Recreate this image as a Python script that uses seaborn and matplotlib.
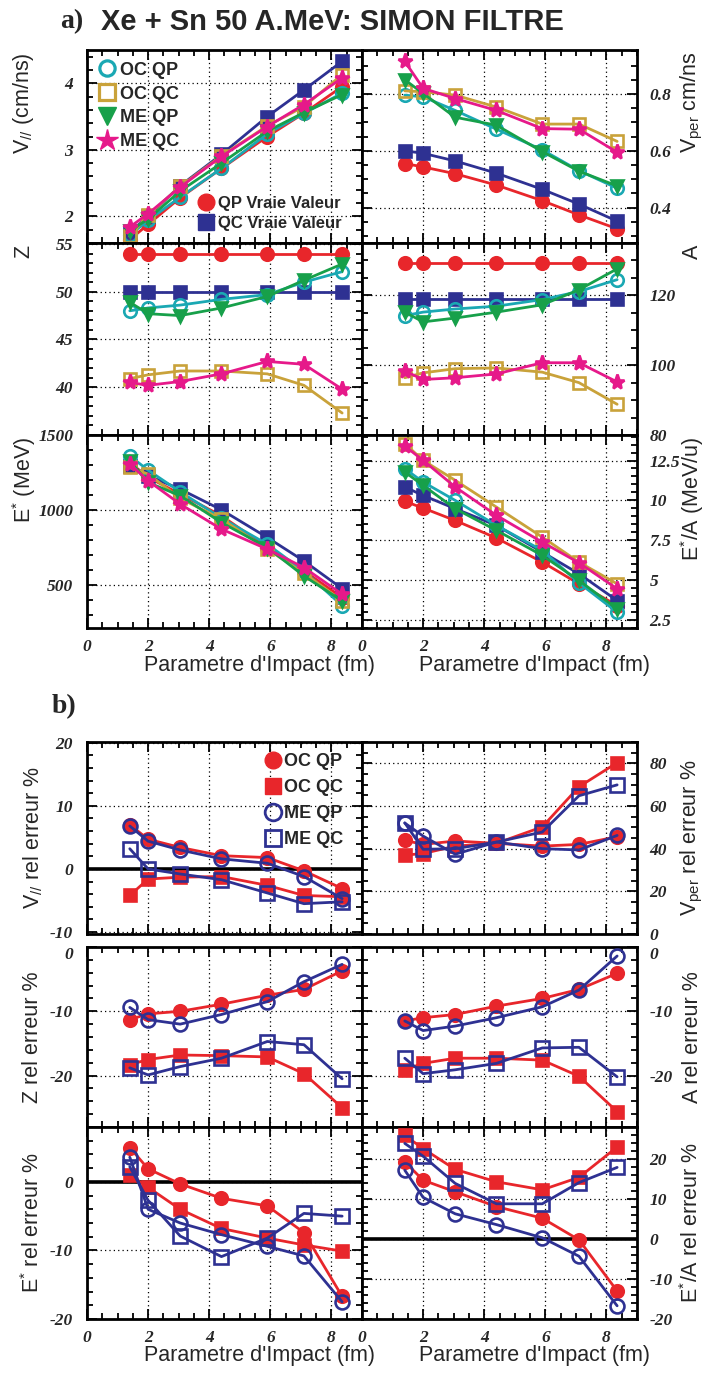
import numpy as np
import pandas as pd
import seaborn as sns
import matplotlib.pyplot as plt
from matplotlib.lines import Line2D
from matplotlib.ticker import MultipleLocator, FuncFormatter

sns.set_style('ticks')
plt.rcParams['font.family'] = ['Liberation Sans Narrow', 'Liberation Sans', 'DejaVu Sans']
plt.rcParams['mathtext.default'] = 'regular'

#%% DATA
# parametre d'impact (fm)
b_imp = [1.4, 2.0, 3.05, 4.4, 5.9, 7.1, 8.35]

# a) valeurs reconstruites
vpar_qp_true = [1.65, 1.88, 2.28, 2.72, 3.20, 3.55, 3.95]
vpar_qc_true = [1.76, 2.00, 2.46, 2.93, 3.50, 3.90, 4.33]
vpar_oc_qp = [1.72, 1.94, 2.29, 2.72, 3.24, 3.55, 3.85]
vpar_oc_qc = [1.70, 2.02, 2.45, 2.91, 3.36, 3.65, 4.13]
vpar_me_qp = [1.78, 1.96, 2.38, 2.80, 3.28, 3.56, 3.83]
vpar_me_qc = [1.84, 2.04, 2.44, 2.90, 3.35, 3.68, 4.08]

vper_qp_true = [0.555, 0.543, 0.519, 0.479, 0.424, 0.374, 0.325]
vper_qc_true = [0.600, 0.591, 0.564, 0.521, 0.464, 0.412, 0.352]
vper_oc_qp = [0.796, 0.790, 0.742, 0.676, 0.603, 0.530, 0.468]
vper_oc_qc = [0.811, 0.808, 0.796, 0.754, 0.694, 0.694, 0.633]
vper_me_qp = [0.850, 0.802, 0.718, 0.690, 0.597, 0.528, 0.476]
vper_me_qc = [0.915, 0.820, 0.784, 0.742, 0.678, 0.676, 0.595]

z_qp_true = [54.0, 54.0, 54.0, 54.0, 54.0, 54.0, 54.0]
z_qc_true = [50.0, 50.0, 50.0, 50.0, 50.0, 50.0, 50.0]
z_oc_qp = [48.0, 48.3, 48.6, 49.2, 49.7, 51.0, 52.1]
z_oc_qc = [40.9, 41.3, 41.7, 41.7, 41.4, 40.2, 37.3]
z_me_qp = [48.9, 47.7, 47.5, 48.3, 49.5, 51.2, 52.9]
z_me_qc = [40.5, 40.2, 40.6, 41.4, 42.7, 42.4, 39.8]

a_qp_true = [129.4, 129.4, 129.4, 129.4, 129.4, 129.4, 129.4]
a_qc_true = [119.0, 119.0, 119.0, 119.0, 119.0, 119.0, 119.0]
a_oc_qp = [114.2, 115.2, 116.1, 116.9, 118.8, 121.1, 124.5]
a_oc_qc = [96.4, 97.8, 99.0, 99.2, 98.0, 95.0, 88.8]
a_me_qp = [115.2, 112.4, 113.5, 115.2, 117.3, 121.6, 127.6]
a_me_qc = [98.3, 95.9, 96.4, 97.5, 100.7, 100.7, 95.2]

estar_qp_true = [1317, 1217, 1105, 960, 748, 592, 413]
estar_qc_true = [1295, 1228, 1138, 1000, 815, 658, 473]
estar_oc_qp = [1360, 1265, 1120, 945, 770, 590, 360]
estar_oc_qc = [1283, 1239, 1076, 938, 737, 576, 391]
estar_me_qp = [1328, 1183, 1094, 915, 748, 558, 391]
estar_me_qc = [1306, 1194, 1038, 871, 737, 614, 436]

esa_qp_true = [9.94, 9.52, 8.74, 7.64, 6.13, 4.77, 3.41]
esa_qc_true = [10.84, 10.31, 9.48, 8.43, 6.76, 5.40, 3.72]
esa_oc_qp = [11.99, 11.15, 10.0, 8.43, 6.86, 4.83, 2.99]
esa_oc_qc = [13.56, 12.51, 11.26, 9.58, 7.70, 6.13, 4.77]
esa_me_qp = [11.78, 10.94, 9.48, 8.12, 6.55, 4.98, 3.20]
esa_me_qc = [13.41, 12.51, 10.84, 9.06, 7.38, 6.09, 4.46]

# b) erreurs relatives (%)
err_vpar_oc_qp = [7.0, 4.7, 3.4, 2.1, 1.8, -0.3, -3.1]
err_vpar_oc_qc = [-4.2, -1.6, -1.3, -1.2, -2.6, -4.2, -4.4]
err_vpar_me_qp = [6.8, 4.4, 3.0, 1.6, 0.9, -1.2, -4.7]
err_vpar_me_qc = [3.2, 0.0, -0.8, -1.7, -3.8, -5.5, -5.2]

err_vper_oc_qp = [43.9, 42.0, 43.6, 42.5, 41.2, 42.0, 45.6]
err_vper_oc_qc = [37.0, 37.7, 41.2, 42.5, 50.2, 69.0, 80.3]
err_vper_me_qp = [52.0, 45.9, 37.4, 43.1, 40.0, 39.4, 46.2]
err_vper_me_qc = [52.1, 39.7, 40.0, 43.1, 47.8, 64.8, 69.9]

err_z_oc_qp = [-11.3, -10.4, -10.0, -8.9, -7.5, -6.6, -3.7]
err_z_oc_qc = [-18.3, -17.5, -16.8, -16.9, -17.1, -19.7, -25.0]
err_z_me_qp = [-9.4, -11.3, -12.0, -10.5, -8.5, -5.4, -2.7]
err_z_me_qc = [-18.8, -19.9, -18.6, -17.3, -14.7, -15.2, -20.5]

err_a_oc_qp = [-11.5, -11.0, -10.5, -9.2, -8.0, -6.6, -4.1]
err_a_oc_qc = [-19.1, -18.1, -17.3, -17.3, -17.6, -20.1, -25.6]
err_a_me_qp = [-11.5, -13.0, -12.3, -11.0, -9.3, -6.7, -1.4]
err_a_me_qc = [-17.3, -19.7, -19.1, -18.1, -15.7, -15.6, -20.2]

err_estar_oc_qp = [5.0, 1.9, -0.3, -2.4, -3.5, -7.4, -16.7]
err_estar_oc_qc = [1.0, -0.8, -4.0, -6.8, -8.2, -9.2, -10.1]
err_estar_me_qp = [3.6, -4.0, -6.0, -7.7, -9.4, -10.8, -17.5]
err_estar_me_qc = [2.2, -2.7, -7.9, -10.9, -8.2, -4.6, -5.0]

err_esa_oc_qp = [19.3, 14.7, 11.8, 8.1, 5.2, -0.2, -13.0]
err_esa_oc_qc = [25.9, 22.6, 17.4, 14.3, 12.3, 15.4, 23.0]
err_esa_me_qp = [17.2, 10.4, 6.3, 3.6, 0.3, -4.3, -16.7]
err_esa_me_qc = [23.9, 20.7, 13.9, 8.8, 8.8, 14.1, 17.9]

#%% STYLE
RED = '#e8262b'
NAVY = '#2e3192'
CYAN = '#1aa8b3'
GOLD = '#c9a23a'
GREEN = '#17a04a'
PINK = '#e6198a'

TICKFONT = dict(family=['Liberation Serif', 'DejaVu Serif'], weight='bold', style='italic', size=12.5)
LABFONT = 15.5


def draw(ax, y, color, marker, filled=True, ms=9, z=2):
    sns.lineplot(x=b_imp, y=y, ax=ax, color=color, marker=marker, markersize=ms,
                 markerfacecolor=color if filled else 'none', markeredgecolor=color,
                 markeredgewidth=1.9, linewidth=2.0, legend=False, zorder=z)


def style(ax, ylim, yticks, yminor, right=False, bottom=False, zero=False):
    ax.set_xlim(0, 9)
    ax.set_ylim(*ylim)
    ax.set_xticks([0, 2, 4, 6, 8])
    ax.xaxis.set_minor_locator(MultipleLocator(0.5))
    ax.set_yticks(yticks)
    ax.yaxis.set_minor_locator(MultipleLocator(yminor))
    ax.yaxis.set_major_formatter(FuncFormatter(lambda v, p: '%g' % v))
    ax.grid(True, which='major', color='black', linestyle=(0, (1, 2.5)), linewidth=0.9)
    ax.set_axisbelow(True)
    ax.tick_params(which='both', direction='in', top=True, bottom=True, left=True, right=True,
                   width=1.3, color='black')
    ax.tick_params(which='major', length=7)
    ax.tick_params(which='minor', length=4.5)
    ax.tick_params(axis='y', pad=9 if right else 10, labelleft=not right, labelright=right)
    ax.tick_params(axis='x', pad=8, labelbottom=bottom)
    for lab in ax.get_xticklabels() + ax.get_yticklabels():
        lab.set_fontproperties(TICKFONT)
    for sp in ax.spines.values():
        sp.set_linewidth(2)
        sp.set_color('black')
    ax.set_xlabel('')
    ax.set_ylabel('')
    if zero:
        ax.axhline(0, color='black', linewidth=2.6, zorder=1.5)


fig = plt.figure(figsize=(7.06, 13.74), dpi=100)
H = 1374.0
W = 706.0


def rect(x0, x1, y0, y1):
    return [x0 / W, 1 - y1 / H, (x1 - x0) / W, (y1 - y0) / H]


XL, XM, XR = 87, 362, 637
rows_a = [(50, 243), (243, 435), (435, 628)]
rows_b = [(742, 934), (947, 1127), (1127, 1319)]

#%% a) valeurs
ax = fig.add_axes(rect(XL, XM, *rows_a[0]))
for y, c, m, f in [(vpar_qp_true, RED, 'o', True), (vpar_qc_true, NAVY, 's', True),
                   (vpar_oc_qp, CYAN, 'o', False), (vpar_oc_qc, GOLD, 's', False),
                   (vpar_me_qp, GREEN, 'v', True), (vpar_me_qc, PINK, '*', True)]:
    draw(ax, y, c, m, f, ms=11 if m == '*' else 9)
style(ax, (1.6, 4.5), [2, 3, 4], 0.2)
legfont = dict(family=['Liberation Sans Narrow', 'Liberation Sans'], weight='bold', size=13)
h1 = [Line2D([], [], ls='none', marker='o', ms=11, mfc='none', mec=CYAN, mew=2.3, label='OC QP'),
      Line2D([], [], ls='none', marker='s', ms=12, mfc='none', mec=GOLD, mew=2.3, label='OC QC'),
      Line2D([], [], ls='none', marker='v', ms=13, color=GREEN, label='ME QP'),
      Line2D([], [], ls='none', marker='*', ms=16, color=PINK, label='ME QC')]
leg1 = ax.legend(handles=h1, loc='upper left', frameon=False, prop=legfont, handlelength=0.9,
                 handletextpad=0.3, labelspacing=0.38, borderaxespad=0.15, borderpad=0.5)
ax.add_artist(leg1)
h2 = [Line2D([], [], ls='none', marker='o', ms=12, color=RED, label='QP Vraie Valeur'),
      Line2D([], [], ls='none', marker='s', ms=11, color=NAVY, label='QC Vraie Valeur')]
ax.legend(handles=h2, loc='lower right', frameon=False, prop=dict(legfont, size=12),
          handlelength=0.9, handletextpad=0.3, labelspacing=0.3, borderaxespad=0.3,
          bbox_to_anchor=(0.97, 0.0))

ax = fig.add_axes(rect(XM, XR, *rows_a[0]))
for y, c, m, f in [(vper_qp_true, RED, 'o', True), (vper_qc_true, NAVY, 's', True),
                   (vper_oc_qp, CYAN, 'o', False), (vper_oc_qc, GOLD, 's', False),
                   (vper_me_qp, GREEN, 'v', True), (vper_me_qc, PINK, '*', True)]:
    draw(ax, y, c, m, f, ms=11 if m == '*' else 9)
style(ax, (0.275, 0.955), [0.4, 0.6, 0.8], 0.05, right=True)

ax = fig.add_axes(rect(XL, XM, *rows_a[1]))
for y, c, m, f in [(z_qp_true, RED, 'o', True), (z_qc_true, NAVY, 's', True),
                   (z_oc_qp, CYAN, 'o', False), (z_oc_qc, GOLD, 's', False),
                   (z_me_qp, GREEN, 'v', True), (z_me_qc, PINK, '*', True)]:
    draw(ax, y, c, m, f, ms=11 if m == '*' else 9)
style(ax, (35.0, 55.1), [40, 45, 50, 55], 1)

ax = fig.add_axes(rect(XM, XR, *rows_a[1]))
for y, c, m, f in [(a_qp_true, RED, 'o', True), (a_qc_true, NAVY, 's', True),
                   (a_oc_qp, CYAN, 'o', False), (a_oc_qc, GOLD, 's', False),
                   (a_me_qp, GREEN, 'v', True), (a_me_qc, PINK, '*', True)]:
    draw(ax, y, c, m, f, ms=11 if m == '*' else 9)
style(ax, (80, 135), [80, 100, 120], 5, right=True)

ax = fig.add_axes(rect(XL, XM, *rows_a[2]))
for y, c, m, f in [(estar_qp_true, RED, 'o', True), (estar_qc_true, NAVY, 's', True),
                   (estar_oc_qp, CYAN, 'o', False), (estar_oc_qc, GOLD, 's', False),
                   (estar_me_qp, GREEN, 'v', True), (estar_me_qc, PINK, '*', True)]:
    draw(ax, y, c, m, f, ms=11 if m == '*' else 9)
style(ax, (210, 1500), [500, 1000, 1500], 100, bottom=True)

ax = fig.add_axes(rect(XM, XR, *rows_a[2]))
for y, c, m, f in [(esa_qp_true, RED, 'o', True), (esa_qc_true, NAVY, 's', True),
                   (esa_oc_qp, CYAN, 'o', False), (esa_oc_qc, GOLD, 's', False),
                   (esa_me_qp, GREEN, 'v', True), (esa_me_qc, PINK, '*', True)]:
    draw(ax, y, c, m, f, ms=11 if m == '*' else 9)
style(ax, (2.0, 14.1), [2.5, 5, 7.5, 10, 12.5], 0.5, right=True, bottom=True)

#%% b) erreurs relatives
panels_b = [
    (XL, 0, (err_vpar_oc_qp, err_vpar_oc_qc, err_vpar_me_qp, err_vpar_me_qc), (-10.3, 20.1), [-10, 0, 10, 20], 2, False, False, True),
    (XM, 0, (err_vper_oc_qp, err_vper_oc_qc, err_vper_me_qp, err_vper_me_qc), (0, 90), [0, 20, 40, 60, 80], 5, True, False, False),
    (XL, 1, (err_z_oc_qp, err_z_oc_qc, err_z_me_qp, err_z_me_qc), (-28, 0), [-20, -10, 0], 2, False, False, False),
    (XM, 1, (err_a_oc_qp, err_a_oc_qc, err_a_me_qp, err_a_me_qc), (-28, 0), [-20, -10, 0], 2, True, False, False),
    (XL, 2, (err_estar_oc_qp, err_estar_oc_qc, err_estar_me_qp, err_estar_me_qc), (-20, 8), [-20, -10, 0], 2, False, True, True),
    (XM, 2, (err_esa_oc_qp, err_esa_oc_qc, err_esa_me_qp, err_esa_me_qc), (-20, 28), [-20, -10, 0, 10, 20], 2, True, True, True),
]
for x0, r, series, ylim, yt, ymin, right, bottom, zero in panels_b:
    ax = fig.add_axes(rect(x0, x0 + (XM - XL), *rows_b[r]))
    draw(ax, series[0], RED, 'o', True, ms=9, z=3)
    draw(ax, series[1], RED, 's', True, ms=9, z=3)
    draw(ax, series[2], NAVY, 'o', False, ms=10, z=4)
    draw(ax, series[3], NAVY, 's', False, ms=10, z=4)
    style(ax, ylim, yt, ymin, right=right, bottom=bottom, zero=zero)
    if r == 1:
        # le "0" du haut se pose juste sous le cadre
        tk = ax.yaxis.get_major_ticks()[-1]
        tk.label1.set_verticalalignment('top')
        tk.label2.set_verticalalignment('top')
    if x0 == XL and r == 0:
        hb = [Line2D([], [], ls='none', marker='o', ms=12, color=RED, label='OC QP'),
              Line2D([], [], ls='none', marker='s', ms=11, color=RED, label='OC QC'),
              Line2D([], [], ls='none', marker='o', ms=12, mfc='none', mec=NAVY, mew=2, label='ME QP'),
              Line2D([], [], ls='none', marker='s', ms=11, mfc='none', mec=NAVY, mew=2, label='ME QC')]
        ax.legend(handles=hb, loc='upper right', frameon=False, prop=legfont, handlelength=0.8,
                  handletextpad=0.2, labelspacing=0.5, borderaxespad=0.2, bbox_to_anchor=(0.97, 1.0))

#%% textes
xlab = "Parametre d'Impact (fm)"
for xr, y in [(375, 666), (650, 666), (375, 1356), (650, 1356)]:
    fig.text(xr / W, 1 - y / H, xlab, ha='right', va='center', fontsize=LABFONT)

left_a = [r'V$_{//}$ (cm/ns)', 'Z', r'E$^{*}$ (MeV)']
right_a = [r'V$_{per}$ cm/ns', 'A', r'E$^{*}$/A (MeV/u)']
for (y0, y1), ll, rl in zip(rows_a, left_a, right_a):
    fig.text(24 / W, 1 - (y0 + 2) / H, ll, rotation=90, ha='center', va='top', fontsize=LABFONT)
    fig.text(692 / W, 1 - (y0 + 2) / H, rl, rotation=90, ha='center', va='top', fontsize=LABFONT)

left_b = [r'V$_{//}$ rel erreur %', 'Z rel erreur %', r'E$^{*}$ rel erreur %']
right_b = [r'V$_{per}$ rel erreur %', 'A rel erreur %', r'E$^{*}$/A rel erreur %']
for (y0, y1), ll, rl in zip(rows_b, left_b, right_b):
    fig.text(33 / W, 1 - (y0 + y1) / 2 / H, ll, rotation=90, ha='center', va='center', fontsize=LABFONT)
    fig.text(692 / W, 1 - (y0 + y1) / 2 / H, rl, rotation=90, ha='center', va='center', fontsize=LABFONT)

fig.text(60 / W, 1 - 22 / H, 'a)', ha='left', va='center', fontsize=20, weight='bold',
         family=['Liberation Serif', 'DejaVu Serif'])
fig.text(101 / W, 1 - 22 / H, 'Xe + Sn 50 A.MeV: SIMON FILTRE', ha='left', va='center',
         fontsize=21, weight='bold')
fig.text(52 / W, 1 - 707 / H, 'b)', ha='left', va='center', fontsize=20, weight='bold',
         family=['Liberation Serif', 'DejaVu Serif'])

fig.savefig('out.png', dpi=100)
